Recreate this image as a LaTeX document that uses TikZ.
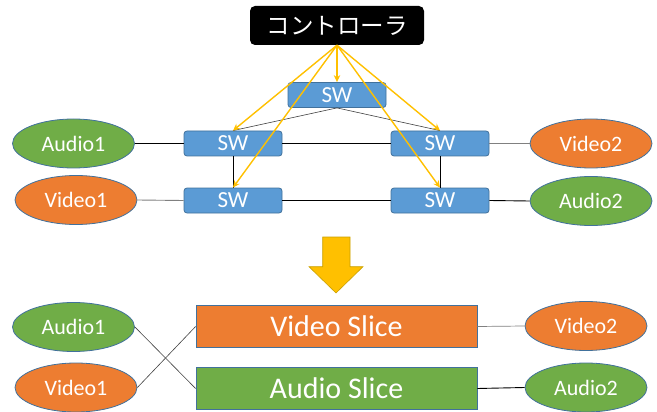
\documentclass[tikz,border=0pt]{standalone}
\usepackage{fontspec}
\setmainfont{Carlito}
\newfontfamily\cjk{Noto Sans CJK JP}
\usetikzlibrary{shapes.geometric,arrows.meta}
\definecolor{swblue}{HTML}{5B9BD5}
\definecolor{swedge}{HTML}{41719C}
\definecolor{vgreen}{HTML}{70AD47}
\definecolor{vorange}{HTML}{ED7D31}
\definecolor{gold}{HTML}{FFC000}
\definecolor{goldedge}{HTML}{C9A000}
\begin{document}
\begin{tikzpicture}[x=1pt,y=-1pt,
  sw/.style={draw=swedge, fill=swblue, rounded corners=3pt, minimum width=98pt, minimum height=25pt, inner sep=0pt, text=white, font=\fontsize{23}{23}\selectfont, line width=0.8pt},
  host/.style={ellipse, draw=swedge, line width=0.8pt, minimum width=122pt, minimum height=49pt, inner sep=0pt, text=white, font=\fontsize{22}{22}\selectfont},
  audio/.style={host, fill=vgreen},
  video/.style={host, fill=vorange},
  slice/.style={draw=swedge, line width=0.8pt, minimum width=281pt, minimum height=42pt, inner sep=0pt, text=white, font=\fontsize{30}{30}\selectfont},
  ctrlbox/.style={fill=black, rounded corners=5pt, minimum width=174pt, minimum height=39pt, inner sep=0pt, text=white, font=\cjk\fontsize{23.5}{24}\selectfont},
  ctrlarrow/.style={draw=gold, line width=1.4pt, -{Stealth[length=7pt,width=6.5pt]}},
  link/.style={draw=black, line width=0.9pt},
  glink/.style={draw=gray, line width=0.9pt},
  thin/.style={draw=black!75, line width=0.6pt}]
\useasboundingbox (0,0) rectangle (657,412);

% top part
\node[ctrlbox] (ctrl) at (337,25.5) {コントローラ};
\node[sw] (top) at (337,95) {SW};
\node[sw] (L1) at (233,143.5) {SW};
\node[sw] (R1) at (440,143.5) {SW};
\node[sw] (L2) at (233,200.5) {SW};
\node[sw] (R2) at (440,200.5) {SW};
\node[audio] (a1) at (73.5,143.5) {Audio1};
\node[video] (v1) at (76,200) {Video1};
\node[video] (v2) at (591,143.5) {Video2};
\node[audio] (a2) at (591,201) {Audio2};

\draw[link] (a1.east) -- (L1.west);
\draw[link] (L1.east) -- (R1.west);
\draw[link] (L1.south) -- (L2.north);
\draw[link] (R1.south) -- (R2.north);
\draw[link] (L2.east) -- (R2.west);
\draw[link] (R2.east) -- (a2.west);
\draw[glink] (v1.east) -- (L2.west);
\draw[glink] (R1.east) -- (v2.west);
\draw[thin] (top.south) -- (L1.north);
\draw[thin] (top.south) -- (R1.north);

\draw[ctrlarrow] (ctrl.south) -- (top.north);
\draw[ctrlarrow] (ctrl.south) -- (L1.north);
\draw[ctrlarrow] (ctrl.south) -- (R1.north);
\draw[ctrlarrow] (ctrl.south) -- (L2.north);
\draw[ctrlarrow] (ctrl.south) -- (R2.north);

% big arrow
\draw[fill=gold, draw=goldedge, line width=0.6pt, line join=miter]
  (322.7,237) -- (350,237) -- (350,266.7) -- (363,266.7) -- (336,293)
  -- (309,266.7) -- (322.7,266.7) -- cycle;

% bottom part
\node[slice, fill=vorange] (vs) at (336.5,326.5) {Video Slice};
\node[slice, fill=vgreen] (as) at (336.5,388.5) {Audio Slice};
\node[audio] (ba1) at (73.5,327) {Audio1};
\node[video] (bv1) at (76,387.5) {Video1};
\node[video] (bv2) at (586,326) {Video2};
\node[audio] (ba2) at (586,387.5) {Audio2};

\draw[thin] (ba1.east) -- (as.west);
\draw[thin] (bv1.east) -- (vs.west);
\draw[glink, line width=0.7pt] (vs.east) -- (bv2.west);
\draw[link] (as.east) -- (ba2.west);
\end{tikzpicture}
\end{document}
